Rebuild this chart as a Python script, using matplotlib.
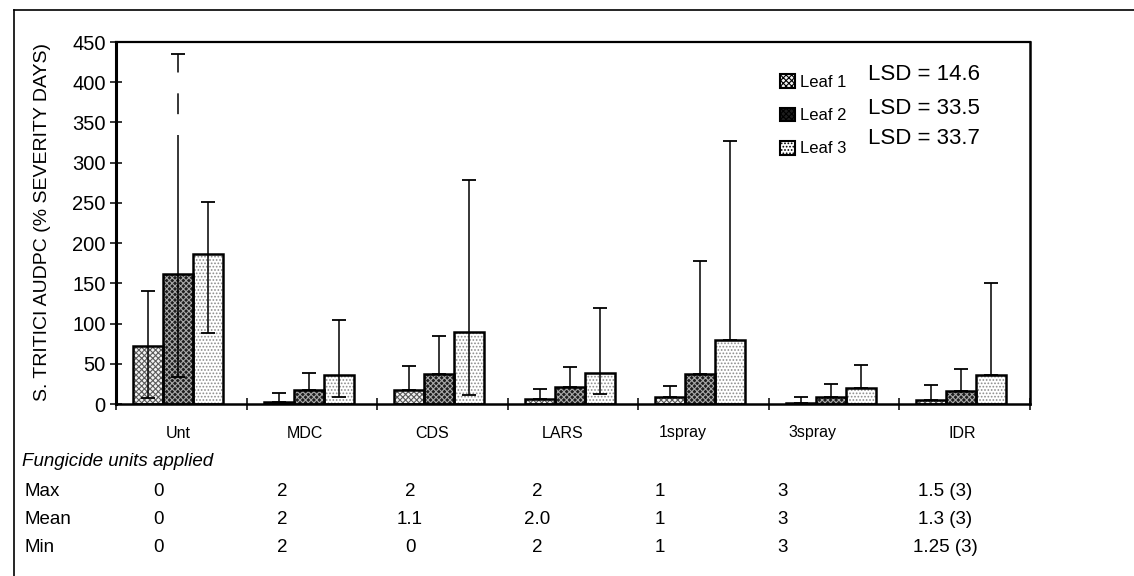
#!/usr/bin/env python3
"""========================================================================
Purpose:
    Leaf AUDPC of S. tritici by fungicide programme, with the table of
    fungicide units applied underneath.
========================================================================"""
#-------------------------------------------------------------------------#
# Python packages                                                         #
#-------------------------------------------------------------------------#
import numpy as np
import matplotlib
matplotlib.use('Agg')
import matplotlib.pyplot as plt
from matplotlib.lines import Line2D
from matplotlib.patches import Patch
#-------------------------------------------------------------------------#
# Data                                                                    #
#-------------------------------------------------------------------------#
categories  = ['Unt', 'MDC', 'CDS', 'LARS', '1spray', '3spray', 'IDR']
leaf_names  = ['Leaf 1', 'Leaf 2', 'Leaf 3']
lsd_values  = [14.6, 33.5, 33.7]

leaf1       = [72, 3, 17, 6, 9, 1, 5]
leaf1_hi    = [140, 14, 47, 19, 22, 9, 23]
leaf1_lo    = [8, 3, 17, 6, 9, 1, 5]

leaf2       = [161, 17, 37, 21, 37, 9, 16]
leaf2_hi    = [435, 39, 85, 46, 178, 25, 44]
leaf2_lo    = [34, 17, 37, 21, 37, 9, 16]

leaf3       = [187, 36, 90, 39, 80, 20, 36]
leaf3_hi    = [251, 104, 278, 119, 327, 49, 151]
leaf3_lo    = [88, 9, 11, 12, 80, 20, 36]

# the Unt / Leaf 2 upper bar is dashed above this value
dash_from   = 335

table_title = 'Fungicide units applied'
row_names   = ['Max', 'Mean', 'Min']
units_max   = ['0', '2', '2', '2', '1', '3', '1.5 (3)']
units_mean  = ['0', '2', '1.1', '2.0', '1', '3', '1.3 (3)']
units_min   = ['0', '2', '0', '2', '1', '3', '1.25 (3)']
#-------------------------------------------------------------------------#
# Settings                                                                #
#-------------------------------------------------------------------------#
plt.rcParams['font.family']     = ['Liberation Sans', 'DejaVu Sans']
plt.rcParams['hatch.linewidth'] = 0.8
W, H        = 1134, 576
fig         = plt.figure(figsize=(W/100, H/100), dpi=100)
ax          = fig.add_axes([116/W, 1-404/H, (1030-116)/W, (404-42)/H])

means       = [leaf1, leaf2, leaf3]
his         = [leaf1_hi, leaf2_hi, leaf3_hi]
los         = [leaf1_lo, leaf2_lo, leaf3_lo]
faces       = ['#f2f2f2', '#1e1e1e', 'white']
hatch_cols  = ['#5a5a5a', '#a8a8a8', '#8c8c8c']
hatches     = ['xxxxxx', 'xxxxxx', '.....']
x           = np.arange(len(categories))
width       = 0.23
offsets     = [-0.255, -0.025, 0.205]
#-------------------------------------------------------------------------#
# Bars and error bars                                                     #
#-------------------------------------------------------------------------#
for i in range(3):
    m   = np.array(means[i], dtype=float)
    hi  = np.array(his[i], dtype=float)
    lo  = np.array(los[i], dtype=float)
    xi  = x + offsets[i]
    ax.bar(xi, m, width, color=faces[i], edgecolor=hatch_cols[i],
           hatch=hatches[i], linewidth=0, zorder=2)
    ax.bar(xi, m, width, fill=False, edgecolor='black', linewidth=1.8,
           zorder=3)
    ax.errorbar(xi, m, yerr=[m-lo, hi-m], fmt='none', ecolor='black',
                elinewidth=1.1, capsize=5, capthick=1.3, zorder=4)

# dashed top part of the untreated leaf 2 bar
ax.vlines(x[0] + offsets[1], dash_from, leaf2_hi[0] - 6, colors='white',
          linewidth=3, linestyles=(0, (5, 5)), zorder=5)
#-------------------------------------------------------------------------#
# Axes                                                                    #
#-------------------------------------------------------------------------#
ax.set_xlim(-0.5, len(categories) - 0.5)
ax.set_ylim(0, 450)
ax.set_yticks(np.arange(0, 451, 50))
ax.set_yticklabels([str(v) for v in range(0, 451, 50)], fontsize=14.5)
ax.set_xticks(np.arange(-0.5, len(categories)))
ax.set_xticklabels([])
ax.tick_params(axis='y', direction='inout', length=9, width=1.1, pad=3)
ax.tick_params(axis='x', direction='inout', length=8, width=1.1)
ax.spines['left'].set_linewidth(2.2)
ax.spines['bottom'].set_linewidth(1.8)
ax.spines['top'].set_linewidth(1.6)
ax.spines['right'].set_linewidth(1.8)

fig.text(43/W, 1-222/H, 'S. TRITICI AUDPC (% SEVERITY DAYS)',
         rotation=90, ha='center', va='center', fontsize=14)
#-------------------------------------------------------------------------#
# Legend and LSD                                                          #
#-------------------------------------------------------------------------#
handles     = [Patch(facecolor=faces[i], edgecolor=hatch_cols[i],
                     hatch=hatches[i], linewidth=0) for i in range(3)]
leg         = ax.legend(handles, leaf_names, loc='upper left',
                        bbox_to_anchor=(772/W, 1-66/H),
                        bbox_transform=fig.transFigure, frameon=False,
                        fontsize=12, handlelength=0.9, handleheight=0.9,
                        handletextpad=0.3, labelspacing=1.05, borderpad=0)
for p in leg.get_patches():
    p.set_edgecolor('black')
    p.set_linewidth(1.5)
lsd_y       = [74, 109, 139]
for j in range(3):
    fig.text(868/W, 1-lsd_y[j]/H, 'LSD = %.1f' % lsd_values[j],
             ha='left', va='center', fontsize=16)
#-------------------------------------------------------------------------#
# Category labels and table                                               #
#-------------------------------------------------------------------------#
cat_x       = [178, 305, 432, 563, 683, 812, 962]
col_x       = [158, 282, 410, 537, 660, 783, 945]
for j in range(len(categories)):
    fig.text(cat_x[j]/W, 1-433/H, categories[j], ha='center', va='center',
             fontsize=11.5)
fig.text(22/W, 1-462/H, table_title, ha='left', va='center', fontsize=13.5,
         style='italic')
row_y       = [492, 520, 548]
for r, vals in enumerate([units_max, units_mean, units_min]):
    fig.text(24/W, 1-row_y[r]/H, row_names[r], ha='left', va='center',
             fontsize=13.5)
    for j in range(len(vals)):
        fig.text(col_x[j]/W, 1-row_y[r]/H, vals[j], ha='center',
                 va='center', fontsize=13.5)
#-------------------------------------------------------------------------#
# Outer frame (left and top only)                                         #
#-------------------------------------------------------------------------#
fig.add_artist(Line2D([14/W, 14/W], [0, 1-10/H], color='black', lw=1.2,
                      transform=fig.transFigure))
fig.add_artist(Line2D([14/W, 1], [1-10/H, 1-10/H], color='black', lw=1.2,
                      transform=fig.transFigure))

fig.savefig('out.png', dpi=100)
